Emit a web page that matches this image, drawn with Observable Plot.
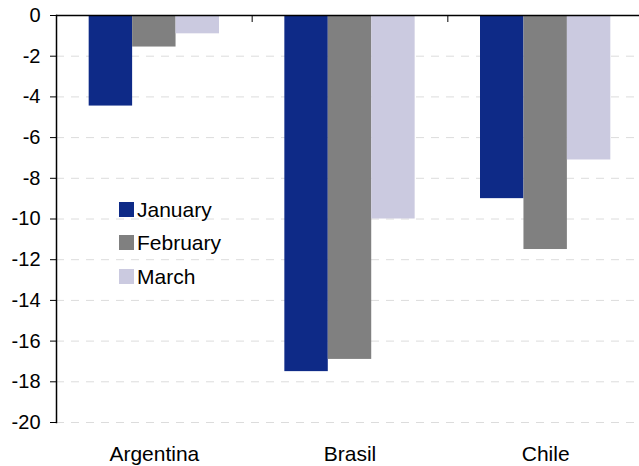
<!DOCTYPE html>
<html>
<head>
<meta charset="utf-8">
<script src="https://cdn.jsdelivr.net/npm/d3@7"></script>
<script src="https://cdn.jsdelivr.net/npm/@observablehq/plot@0.6"></script>
<style>
  html, body { margin: 0; padding: 0; background: #fff; }
  #wrap { position: relative; width: 639px; height: 466px; }
  #legend { position: absolute; left: 119px; top: 201.7px; font-family: "Liberation Sans", Arial, sans-serif; font-size: 21px; color: #000; }
  .row { position: relative; height: 33.5px; }
  .sw { position: absolute; left: 0; top: 0; width: 15px; height: 15px; }
  .lab { position: absolute; left: 18px; top: 0; line-height: 15px; white-space: nowrap; }
</style>
</head>
<body>
<div id="wrap"><div id="legend"></div></div>
<script>
// ---- data ----
const countries = ["Argentina", "Brasil", "Chile"];
const months = ["January", "February", "March"];
const january = [-4.45, -17.5, -9.0];
const february = [-1.55, -16.9, -11.5];
const march = [-0.9, -10.0, -7.1];
const colors = ["#0e2a87", "#808080", "#cbcae0"];
const yTicks = [0, -2, -4, -6, -8, -10, -12, -14, -16, -18, -20];

// ---- layout (band-like placement within each country group) ----
const barW = 0.222;                    // bar width as fraction of group step
const groupPad = (1 - 3 * barW) / 2;   // space on each side of the bar cluster
const series = [january, february, march];
const rows = [];
countries.forEach((c, i) => {
  series.forEach((vals, m) => {
    const x1 = i + groupPad + m * barW;
    rows.push({country: c, month: months[m], value: vals[i], x1, x2: x1 + barW, color: colors[m]});
  });
});

const chart = Plot.plot({
  width: 639,
  height: 466,
  marginLeft: 56,
  marginRight: 0,
  marginTop: 15,
  marginBottom: 44,
  style: {fontFamily: "'Liberation Sans', Arial, sans-serif", fontSize: "20px", background: "#fff", color: "#000"},
  x: {domain: [0, countries.length], range: [56, 643]},
  y: {domain: [-20, 0]},
  marks: [
    Plot.gridY({ticks: yTicks, stroke: "#dcdcdc", strokeOpacity: 1, strokeDasharray: "8,7"}),
    Plot.rect(rows, {x1: "x1", x2: "x2", y1: 0, y2: "value", fill: "color"}),
    Plot.axisY({ticks: yTicks, tickSize: 6, tickPadding: 10, tickFormat: d => String(d), label: null, fontSize: 20}),
    Plot.axisX({anchor: "bottom", ticks: countries.map((c, i) => i + 0.5), tickFormat: d => countries[Math.floor(d)], tickSize: 0, tickPadding: 24, label: null, fontSize: 21}),
    Plot.axisX({anchor: "top", ticks: d3.range(1, countries.length), tickSize: -6, tickFormat: () => "", label: null}),
    Plot.frame({anchor: "left", stroke: "#000", strokeWidth: 1.5}),
    Plot.ruleY([0], {stroke: "#000", strokeWidth: 1.5})
  ]
});
document.getElementById("wrap").prepend(chart);

const legend = document.getElementById("legend");
months.forEach((m, k) => {
  const row = document.createElement("div");
  row.className = "row";
  const sw = document.createElement("div");
  sw.className = "sw";
  sw.style.background = colors[k];
  const lab = document.createElement("span");
  lab.className = "lab";
  lab.textContent = m;
  row.append(sw, lab);
  legend.append(row);
});
</script>
</body>
</html>
